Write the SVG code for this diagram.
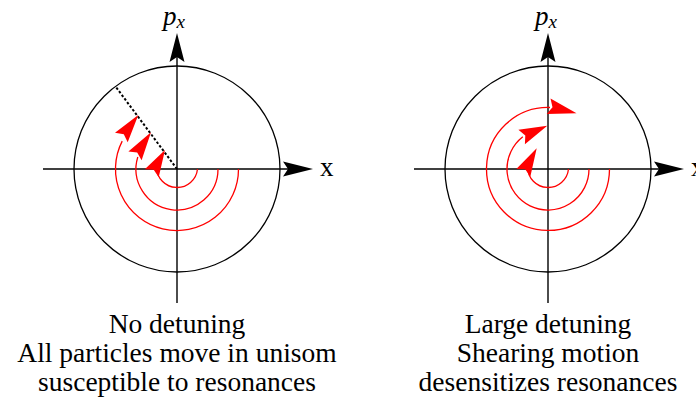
<svg xmlns="http://www.w3.org/2000/svg" width="696" height="398" viewBox="0 0 696 398">
<style>
.ax{stroke:#000;stroke-width:1.4;fill:none}
.ah{fill:#000;stroke:none}
.ring{stroke:#000;stroke-width:1.3;fill:none}
.orb{stroke:#f00;stroke-width:1.3;fill:none}
.rh{fill:#f00;stroke:none}
.dot{stroke:#000;stroke-width:2;stroke-dasharray:2.5 2;fill:none}
.lbl{font-family:"Liberation Serif","Times New Roman",serif;font-size:27px;fill:#000}
.cap{font-family:"Liberation Serif","Times New Roman",serif;font-size:27.5px;fill:#000;text-anchor:middle}
</style>
<g id="left-panel">
  <circle class="ring" cx="177" cy="169" r="103"/>
  <g id="left-axes">
    <line class="ax" x1="43" y1="169" x2="290" y2="169"/>
    <polygon class="ah" points="313,169 283,161.5 288,169 283,176.5"/>
    <line class="ax" x1="177" y1="303" x2="177" y2="55"/>
    <polygon class="ah" points="177,33 169.5,62 177,57 184.5,62"/>
    <text class="lbl" x="320" y="176">x</text>
    <text class="lbl" x="163" y="25" font-style="italic">p<tspan font-size="19" dy="3">x</tspan></text>
  </g>
  <line class="dot" x1="177" y1="169" x2="115.7" y2="86.7"/>
  <g id="left-orbits">
    <path class="orb" d="M238.5,169 A61.5,61.5 0 1 1 122.2,141.1"/>
    <path class="orb" d="M218,169 A41,41 0 1 1 137.8,157"/>
    <path class="orb" d="M197.5,169 A20.5,20.5 0 0 1 156.6,167.2"/>
    <polygon class="rh" points="138.3,115 115,132.7 123.8,134.3 127.7,142.3"/>
    <polygon class="rh" points="151,132.3 128.4,151.4 137.2,152.5 141.6,160.3"/>
    <polygon class="rh" points="165,150 144.8,169.3 153.7,169.8 158.7,177.2"/>
  </g>
  <g id="left-caption">
    <text class="cap" x="177" y="333">No detuning</text>
    <text class="cap" x="177" y="362">All particles move in unisom</text>
    <text class="cap" x="177" y="391">susceptible to resonances</text>
  </g>
</g>
<g id="right-panel">
  <circle class="ring" cx="548" cy="169" r="103"/>
  <g id="right-axes">
    <line class="ax" x1="414" y1="169" x2="661" y2="169"/>
    <polygon class="ah" points="684,169 654,161.5 659,169 654,176.5"/>
    <line class="ax" x1="548" y1="303" x2="548" y2="55"/>
    <polygon class="ah" points="548,33 540.5,62 548,57 555.5,62"/>
    <text class="lbl" x="691" y="176">x</text>
    <text class="lbl" x="535" y="25" font-style="italic">p<tspan font-size="19" dy="3">x</tspan></text>
  </g>
  <g id="right-orbits">
    <path class="orb" d="M609.5,169 A61.5,61.5 0 1 1 550,107.5"/>
    <path class="orb" d="M589,169 A41,41 0 1 1 522.8,136.7"/>
    <path class="orb" d="M568.5,169 A20.5,20.5 0 0 1 527.6,167.2"/>
    <polygon class="rh" points="576.5,113.3 550.5,98.6 552.5,107.3 546.7,114.1"/>
    <polygon class="rh" points="547.3,125.7 518.4,129.7 525.3,135.4 524.9,144.3"/>
    <polygon class="rh" points="536.7,148.3 516.3,169 525.2,169.3 530.3,176.7"/>
  </g>
  <g id="right-caption">
    <text class="cap" x="548" y="333">Large detuning</text>
    <text class="cap" x="548" y="362">Shearing motion</text>
    <text class="cap" x="548" y="391">desensitizes resonances</text>
  </g>
</g>
</svg>
